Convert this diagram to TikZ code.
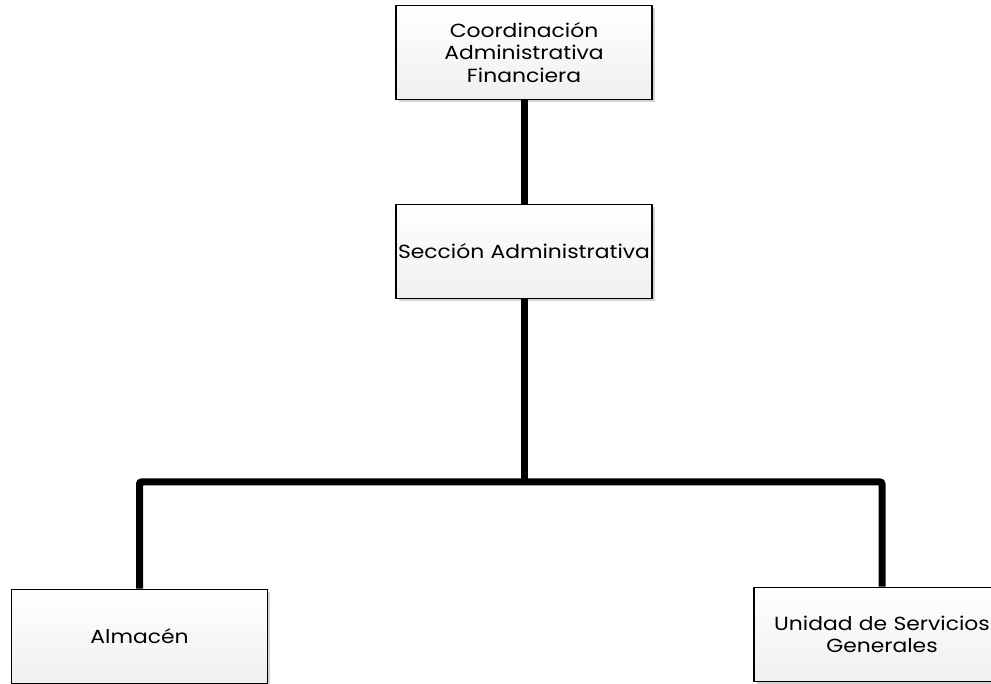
\documentclass[tikz,border=0pt]{standalone}
\usepackage{fontspec}
\setmainfont[FakeStretch=1.15]{Poppins}
\usetikzlibrary{shadows}

\tikzset{
	unidad/.style={draw, line width=1.5pt, top color=white, bottom color=gray!12,
		drop shadow={shadow xshift=2.5pt, shadow yshift=-2.5pt, opacity=.35},
		inner sep=2pt, text width=252pt, minimum height=94pt, align=center,
		font=\fontsize{19}{22.5}\selectfont},
	enlace/.style={line width=7pt, rounded corners=2pt}
}

\begin{document}
\begin{tikzpicture}[x=1pt,y=1pt]
		\useasboundingbox (0,0) rectangle (991,683);
		\node[unidad] (coord) at (524,630.5) {Coordinación\\Administrativa\\Financiera};
		\node[unidad] (seccion) at (524,431.5) {Sección Administrativa};
		\node[unidad] (almacen) at (139.5,46.5) {Almacén};
		\node[unidad] (servicios) at (882,48.5) {Unidad de Servicios\\Generales};
		\coordinate (rama) at (524,201);
		\begin{scope}[on background layer/.try]
		\draw [enlace] (coord) -- (seccion);
		\draw [enlace] (seccion) -- (rama);
		\draw [enlace] (rama) -| (almacen);
		\draw [enlace] (rama) -| (servicios);
		\end{scope}
		\end{tikzpicture}
\end{document}
